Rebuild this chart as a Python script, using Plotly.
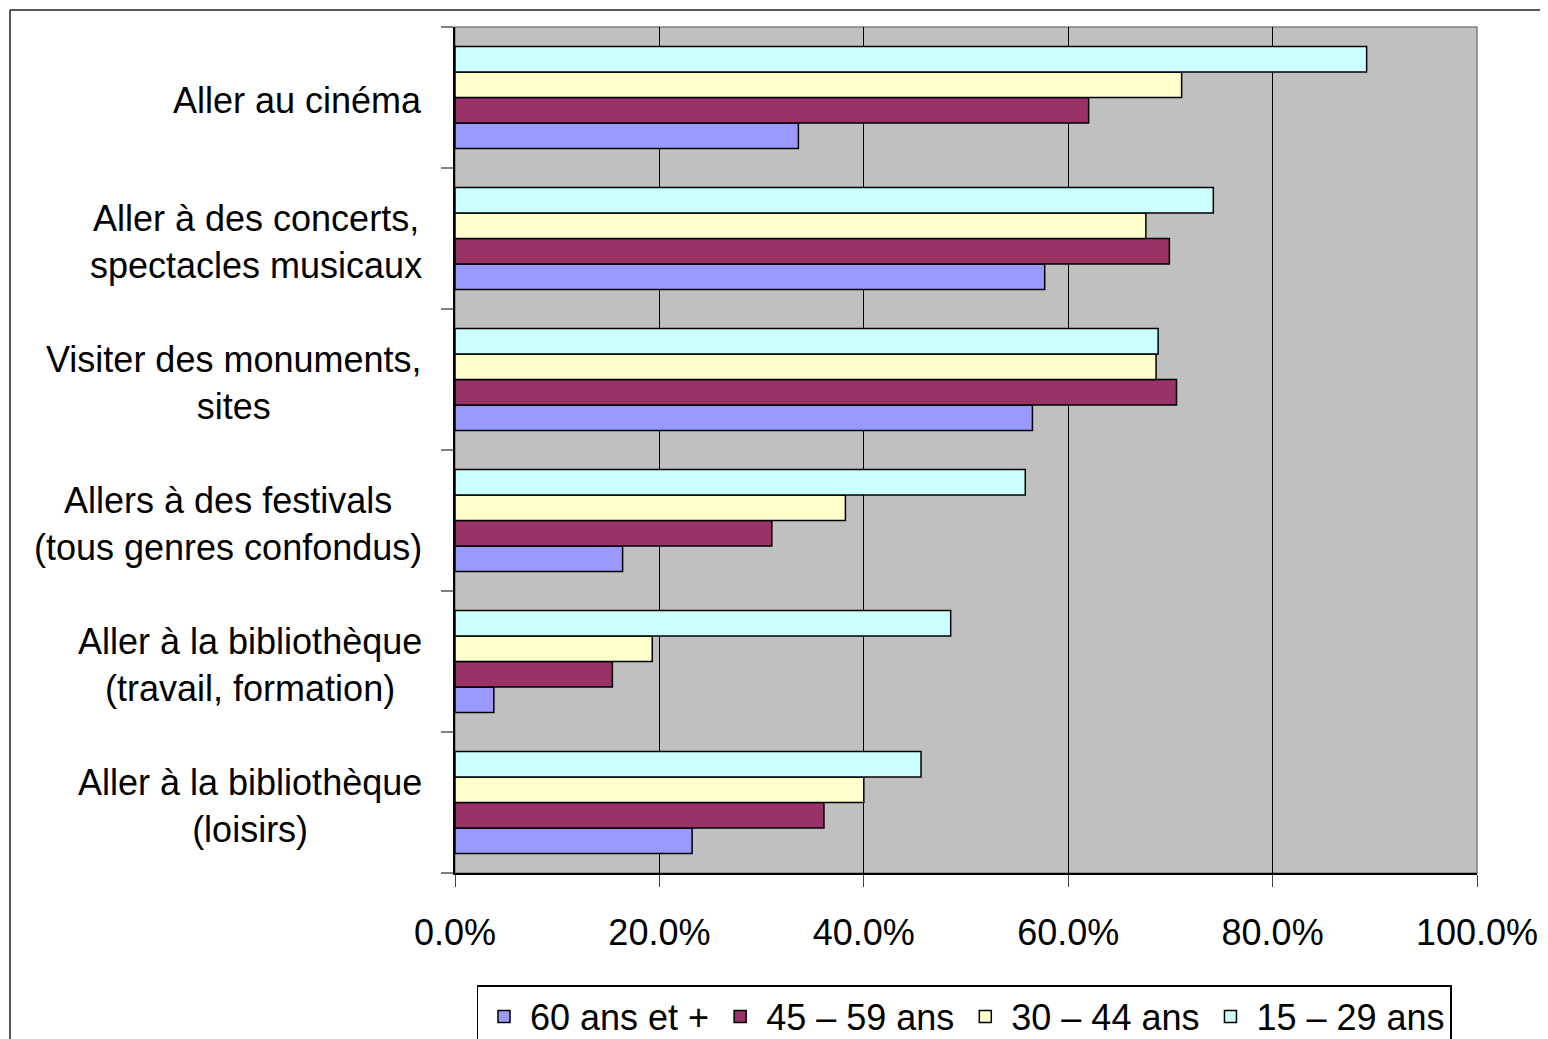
import plotly.graph_objects as go

categories = [
    "Aller au cinéma",
    "Aller à des concerts,<br>spectacles musicaux",
    "Visiter des monuments,<br>sites",
    "Allers à des festivals<br>(tous genres confondus)",
    "Aller à la bibliothèque<br>(travail, formation)",
    "Aller à la bibliothèque<br>(loisirs)",
]
series_names = ["60 ans et +", "45 – 59 ans", "30 – 44 ans", "15 – 29 ans"]
v_60plus = [0.336, 0.577, 0.565, 0.164, 0.038, 0.232]
v_45_59 = [0.620, 0.699, 0.706, 0.310, 0.154, 0.361]
v_30_44 = [0.711, 0.676, 0.686, 0.382, 0.193, 0.400]
v_15_29 = [0.892, 0.742, 0.688, 0.558, 0.485, 0.456]
series_values = [v_60plus, v_45_59, v_30_44, v_15_29]
colors = ["#9999FF", "#993366", "#FFFFCC", "#CCFFFF"]
x_ticks = [0, 0.2, 0.4, 0.6, 0.8, 1.0]

FONT = "Liberation Sans, Arial, sans-serif"
FS = 36
OFF = 8  # page body margin
W, H = 1548 - OFF, 1039 - OFF
# plot area in screen pixels
SL, SR, ST, SB = 455, 1477, 27, 873
L, R, T, B = SL - OFF, SR - OFF, ST - OFF, SB - OFF

fig = go.Figure()
for name, vals, col in zip(series_names, series_values, colors):
    fig.add_trace(go.Bar(
        y=categories, x=vals, name=name, orientation="h",
        marker=dict(color=col, line=dict(color="#000000", width=1.5)),
        hoverinfo="x+y+name",
    ))

def px_x(p):
    return (p - SL) / (SR - SL)

def px_y(p):
    return (SB - p) / (SB - ST)

shapes = [
    dict(type="rect", xref="paper", yref="paper", x0=0, x1=1, y0=0, y1=1,
         line=dict(color="#808080", width=1.5), layer="below"),
    dict(type="line", xref="paper", yref="paper", x0=px_x(10), x1=px_x(10),
         y0=px_y(10), y1=px_y(1060), line=dict(color="#222222", width=1.5)),
    dict(type="line", xref="paper", yref="paper", x0=px_x(10), x1=px_x(1560),
         y0=px_y(10), y1=px_y(10), line=dict(color="#222222", width=1.5)),
]

annotations = []
for c in categories:
    annotations.append(dict(
        x=0, xref="paper", y=c, yref="y", text=c, showarrow=False,
        xanchor="right", yanchor="middle", align="center", xshift=-31, yshift=-3,
        font=dict(family=FONT, size=FS, color="#000000"),
    ))

fig.update_layout(
    width=W, height=H,
    margin=dict(l=L, r=W - R, t=T, b=H - B, autoexpand=False),
    paper_bgcolor="#FFFFFF",
    plot_bgcolor="#C0C0C0",
    barmode="group",
    bargap=0.276,
    bargroupgap=0,
    font=dict(family=FONT, size=FS, color="#000000"),
    showlegend=True,
    legend=dict(
        orientation="h", x=px_x(964), xanchor="center", y=px_y(985), yanchor="top",
        bordercolor="#000000", borderwidth=1.5, bgcolor="#FFFFFF",
        font=dict(family=FONT, size=FS, color="#000000"),
        traceorder="normal", itemwidth=42, tracegroupgap=0,
    ),
    xaxis=dict(
        range=[0, 1], tickvals=x_ticks, tickformat=".1%",
        showgrid=True, gridcolor="#000000", gridwidth=1,
        ticks="outside", ticklen=12, tickcolor="#404040", tickwidth=1,
        showline=True, linecolor="#000000", linewidth=1.5,
        zeroline=False, ticklabelstandoff=15,
        tickfont=dict(family=FONT, size=FS, color="#000000"),
        fixedrange=True,
    ),
    yaxis=dict(
        type="category", categoryorder="array", categoryarray=categories[::-1],
        showticklabels=False, tickson="boundaries",
        ticks="outside", ticklen=12, tickcolor="#808080", tickwidth=1.5,
        showline=True, linecolor="#000000", linewidth=1.5,
        showgrid=False, zeroline=False, fixedrange=True,
    ),
    shapes=shapes,
    annotations=annotations,
)

fig.write_html("out.html")
